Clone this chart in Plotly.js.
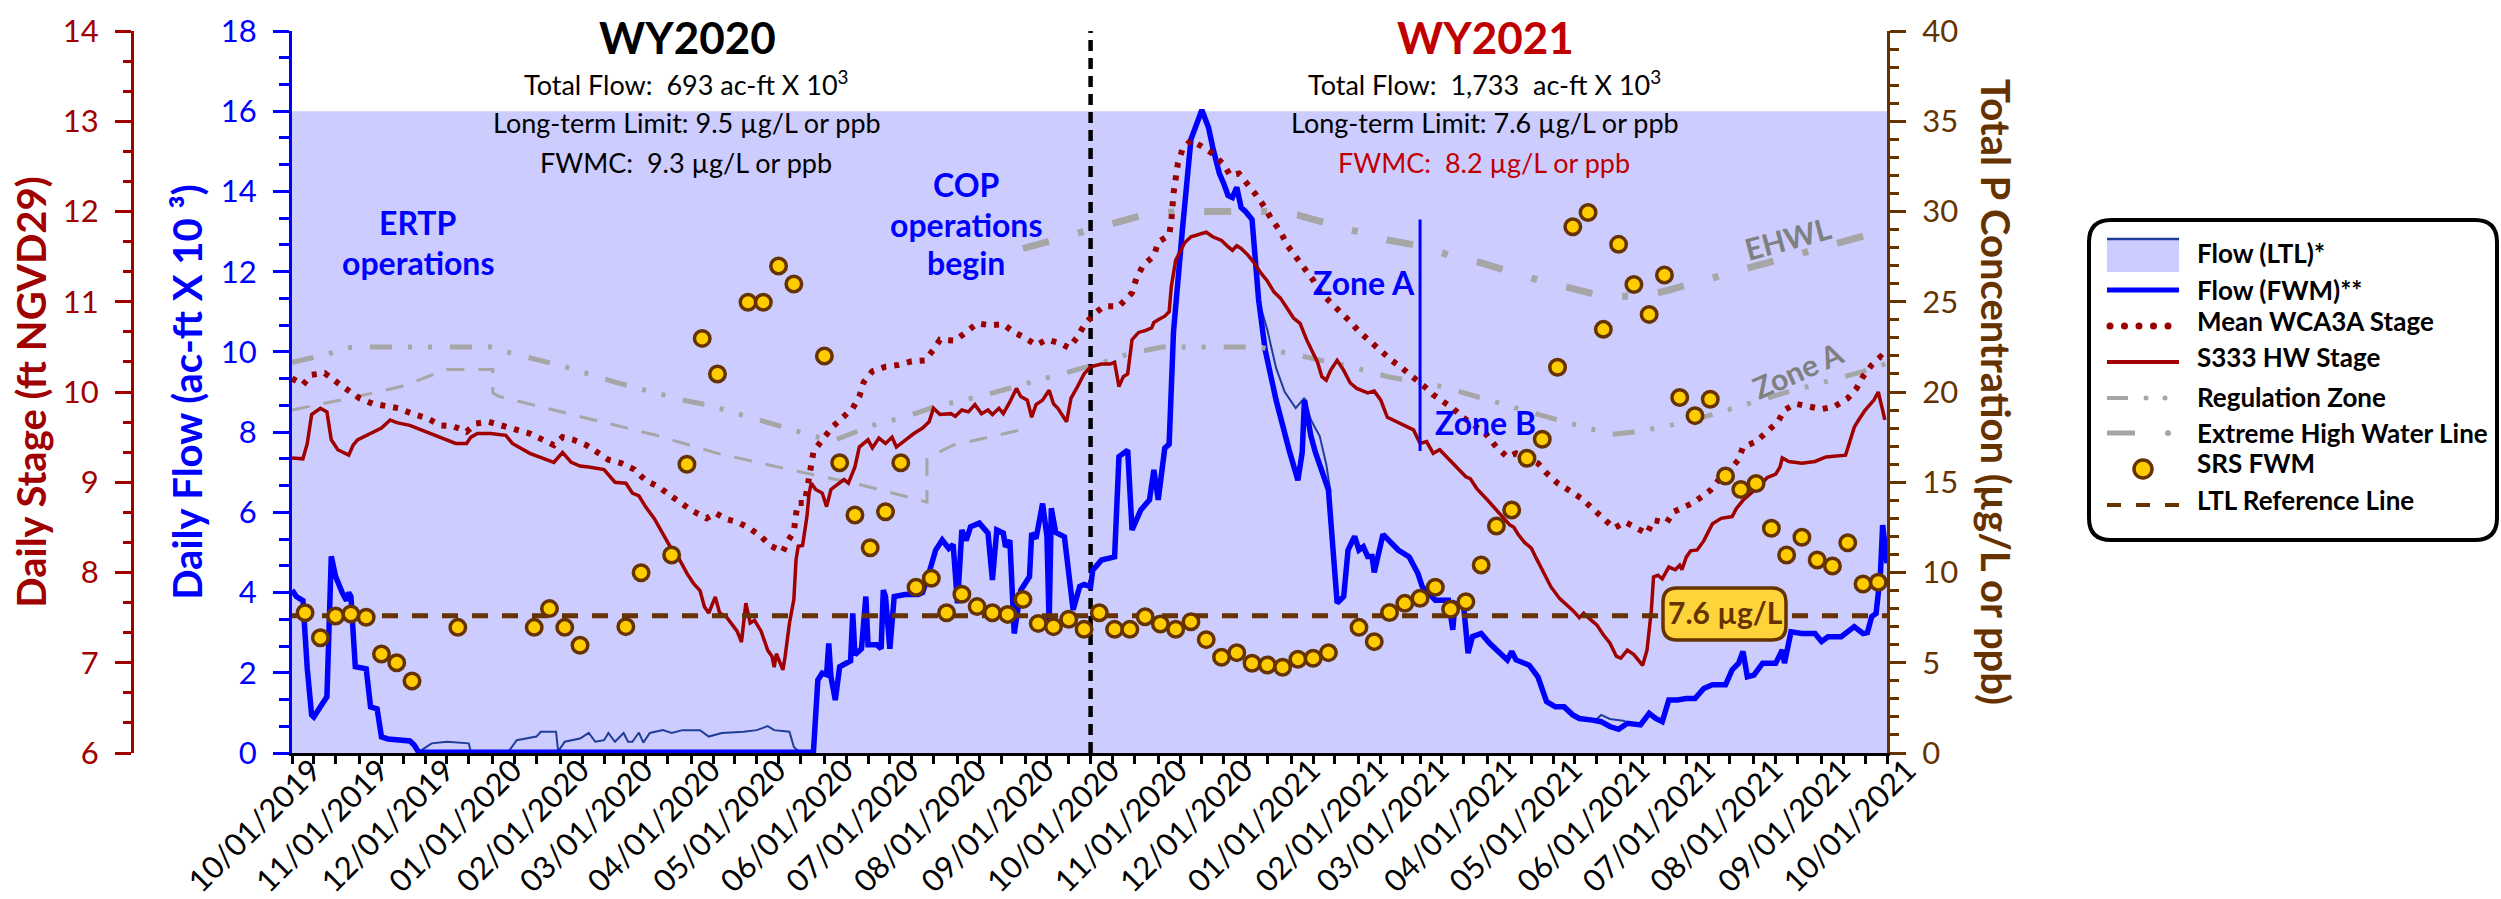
<!DOCTYPE html>
<html><head><meta charset="utf-8">
<script src="https://cdn.plot.ly/plotly-3.0.1.min.js"></script>
<style>html,body{margin:0;padding:0;background:#fff}</style>
</head><body><div id="chart" style="width:2501px;height:899px"></div>
<script>
// ---------------- DATA ----------------
const monthTicks = ['2019-10-01','2019-11-01','2019-12-01','2020-01-01','2020-02-01','2020-03-01','2020-04-01','2020-05-01','2020-06-01','2020-07-01','2020-08-01','2020-09-01','2020-10-01','2020-11-01','2020-12-01','2021-01-01','2021-02-01','2021-03-01','2021-04-01','2021-05-01','2021-06-01','2021-07-01','2021-08-01','2021-09-01','2021-10-01'];
const monthLabels = ['10/01/2019','11/01/2019','12/01/2019','01/01/2020','02/01/2020','03/01/2020','04/01/2020','05/01/2020','06/01/2020','07/01/2020','08/01/2020','09/01/2020','10/01/2020','11/01/2020','12/01/2020','01/01/2021','02/01/2021','03/01/2021','04/01/2021','05/01/2021','06/01/2021','07/01/2021','08/01/2021','09/01/2021','10/01/2021'];

// Daily flow, ac-ft x 10^3 (left blue axis)
const flowFwm = [['2019-10-01',4.06],['2019-10-03',3.9],['2019-10-06',3.8],['2019-10-08',2.1],['2019-10-10',0.95],['2019-10-11',0.9],['2019-10-14',1.15],['2019-10-17',1.4],['2019-10-19',4.9],['2019-10-21',4.4],['2019-10-24',4.0],['2019-10-26',3.8],['2019-10-27',4.0],['2019-10-28',3.9],['2019-10-30',2.15],['2019-11-04',2.1],['2019-11-06',1.15],['2019-11-09',1.1],['2019-11-11',0.4],['2019-11-14',0.35],['2019-11-24',0.3],['2019-11-26',0.2],['2019-11-28',0.02],['2020-01-09',0.01],['2020-04-18',0.02],['2020-05-26',0.02],['2020-05-27',0.05],['2020-05-29',1.82],['2020-05-31',1.99],['2020-06-02',1.95],['2020-06-03',2.73],['2020-06-04',1.9],['2020-06-06',1.32],['2020-06-08',2.15],['2020-06-11',2.24],['2020-06-13',2.3],['2020-06-14',3.48],['2020-06-15',2.45],['2020-06-18',2.6],['2020-06-20',3.9],['2020-06-21',2.7],['2020-06-25',2.7],['2020-06-27',2.6],['2020-06-28',4.06],['2020-06-29',3.9],['2020-07-01',2.6],['2020-07-03',3.9],['2020-07-08',3.95],['2020-07-14',3.95],['2020-07-16',4.0],['2020-07-19',4.5],['2020-07-22',5.06],['2020-07-25',5.31],['2020-07-28',5.1],['2020-07-30',5.2],['2020-08-01',3.73],['2020-08-03',5.56],['2020-08-05',5.3],['2020-08-07',5.64],['2020-08-11',5.73],['2020-08-15',5.48],['2020-08-17',4.31],['2020-08-19',5.56],['2020-08-22',5.48],['2020-08-23',5.14],['2020-08-25',5.3],['2020-08-27',2.98],['2020-08-30',4.06],['2020-09-03',4.4],['2020-09-04',5.48],['2020-09-06',5.35],['2020-09-09',6.22],['2020-09-11',5.4],['2020-09-12',3.23],['2020-09-13',6.1],['2020-09-15',5.5],['2020-09-19',5.39],['2020-09-21',4.4],['2020-09-23',3.57],['2020-09-26',4.15],['2020-09-28',4.2],['2020-10-01',4.15],['2020-10-02',4.56],['2020-10-06',4.81],['2020-10-12',4.89],['2020-10-14',7.39],['2020-10-18',7.55],['2020-10-20',5.56],['2020-10-24',6.06],['2020-10-28',6.31],['2020-10-30',7.06],['2020-11-01',6.31],['2020-11-04',7.6],['2020-11-06',7.7],['2020-11-08',10.5],['2020-11-12',13.0],['2020-11-16',15.3],['2020-11-21',16.03],['2020-11-24',15.6],['2020-11-26',15.1],['2020-11-29',14.45],['2020-12-01',14.2],['2020-12-03',13.9],['2020-12-05',13.85],['2020-12-07',14.1],['2020-12-09',13.6],['2020-12-11',13.5],['2020-12-14',13.3],['2020-12-17',11.3],['2020-12-20',10.05],['2020-12-25',8.8],['2020-12-31',7.55],['2021-01-04',6.8],['2021-01-06',7.5],['2021-01-07',8.8],['2021-01-10',7.9],['2021-01-12',7.5],['2021-01-18',6.56],['2021-01-20',5.06],['2021-01-22',3.74],['2021-01-25',3.9],['2021-01-27',5.06],['2021-01-30',5.4],['2021-02-01',5.06],['2021-02-03',5.14],['2021-02-05',4.9],['2021-02-07',4.9],['2021-02-08',4.5],['2021-02-12',5.45],['2021-02-15',5.3],['2021-02-19',5.06],['2021-02-24',4.89],['2021-02-28',4.48],['2021-03-02',4.15],['2021-03-08',3.81],['2021-03-14',3.81],['2021-03-16',3.07],['2021-03-17',3.73],['2021-03-21',3.65],['2021-03-23',2.49],['2021-03-25',2.9],['2021-03-29',2.98],['2021-04-02',2.73],['2021-04-10',2.32],['2021-04-12',2.53],['2021-04-14',2.32],['2021-04-20',2.19],['2021-04-24',1.9],['2021-04-28',1.28],['2021-05-02',1.15],['2021-05-06',1.15],['2021-05-10',0.95],['2021-05-13',0.86],['2021-05-19',0.82],['2021-05-23',0.78],['2021-05-27',0.66],['2021-05-31',0.59],['2021-06-04',0.74],['2021-06-10',0.70],['2021-06-14',0.99],['2021-06-17',0.86],['2021-06-20',0.78],['2021-06-23',1.32],['2021-06-27',1.32],['2021-07-01',1.36],['2021-07-05',1.36],['2021-07-09',1.61],['2021-07-13',1.7],['2021-07-19',1.7],['2021-07-22',2.07],['2021-07-25',2.24],['2021-07-27',2.53],['2021-07-29',1.9],['2021-08-01',1.94],['2021-08-05',2.24],['2021-08-11',2.24],['2021-08-14',2.57],['2021-08-15',2.24],['2021-08-18',3.02],['2021-08-23',2.98],['2021-08-29',2.98],['2021-09-01',2.78],['2021-09-04',2.9],['2021-09-10',2.9],['2021-09-16',3.15],['2021-09-20',2.98],['2021-09-22',3.0],['2021-09-24',3.4],['2021-09-26',3.48],['2021-09-28',4.48],['2021-09-29',5.68],['2021-10-01',4.73]];

const flowLtl = [['2019-11-28',0.02],['2019-12-04',0.24],['2019-12-11',0.28],['2019-12-21',0.24],['2019-12-22',0.02],['2020-01-08',0.02],['2020-01-12',0.32],['2020-01-21',0.41],['2020-01-23',0.53],['2020-01-30',0.53],['2020-01-31',0.04],['2020-02-03',0.28],['2020-02-10',0.36],['2020-02-14',0.5],['2020-02-17',0.28],['2020-02-21',0.32],['2020-02-23',0.5],['2020-02-26',0.28],['2020-03-01',0.5],['2020-03-03',0.28],['2020-03-05',0.28],['2020-03-08',0.51],['2020-03-10',0.26],['2020-03-13',0.5],['2020-03-19',0.57],['2020-03-23',0.5],['2020-03-28',0.57],['2020-04-05',0.57],['2020-04-09',0.41],['2020-04-15',0.5],['2020-04-25',0.53],['2020-05-01',0.57],['2020-05-06',0.67],['2020-05-09',0.57],['2020-05-16',0.53],['2020-05-18',0.15],['2020-05-20',0.05],['2020-05-27',0.04],['2020-05-28',null],['2020-12-17',11.3],['2020-12-21',10.55],['2020-12-25',9.6],['2020-12-29',9.0],['2021-01-03',8.6],['2021-01-07',8.85],['2021-01-10',8.3],['2021-01-14',7.9],['2021-01-17',7.2],['2021-01-19',6.5],['2021-01-20',null],['2021-05-20',0.8],['2021-05-23',0.95],['2021-05-27',0.85],['2021-06-03',0.8]];

// Stage, ft NGVD29 (far-left red axis)
const stageWca3a = [['2019-10-01',10.15],['2019-10-06',10.08],['2019-10-10',10.19],['2019-10-16',10.21],['2019-10-22',10.10],['2019-10-27',10.02],['2019-11-01',9.93],['2019-11-07',9.87],['2019-11-13',9.84],['2019-11-19',9.82],['2019-11-25',9.76],['2019-12-02',9.71],['2019-12-08',9.63],['2019-12-14',9.62],['2019-12-20',9.56],['2019-12-24',9.65],['2019-12-30',9.67],['2020-01-05',9.63],['2020-01-11',9.60],['2020-01-18',9.54],['2020-01-24',9.47],['2020-01-29',9.41],['2020-02-02',9.50],['2020-02-07',9.47],['2020-02-13',9.41],['2020-02-17',9.34],['2020-02-23',9.25],['2020-02-29',9.21],['2020-03-06',9.14],['2020-03-11',9.02],['2020-03-17',8.95],['2020-03-22',8.86],['2020-03-27',8.77],['2020-04-01',8.69],['2020-04-08',8.60],['2020-04-12',8.66],['2020-04-17',8.59],['2020-04-22',8.56],['2020-04-27',8.50],['2020-05-03',8.40],['2020-05-07',8.30],['2020-05-13',8.23],['2020-05-15',8.34],['2020-05-18',8.45],['2020-05-19',8.65],['2020-05-20',8.77],['2020-05-23',8.77],['2020-05-24',8.91],['2020-05-25',9.06],['2020-05-26',9.23],['2020-05-27',9.34],['2020-05-31',9.47],['2020-06-05',9.62],['2020-06-14',9.82],['2020-06-17',9.95],['2020-06-19',10.11],['2020-06-23',10.23],['2020-06-29',10.28],['2020-07-05',10.30],['2020-07-11',10.34],['2020-07-17',10.35],['2020-07-21',10.47],['2020-07-24',10.58],['2020-07-31',10.57],['2020-08-05',10.66],['2020-08-10',10.76],['2020-08-16',10.74],['2020-08-22',10.75],['2020-08-27',10.66],['2020-09-01',10.60],['2020-09-06',10.52],['2020-09-11',10.58],['2020-09-17',10.54],['2020-09-21',10.49],['2020-09-25',10.61],['2020-09-28',10.74],['2020-10-02',10.85],['2020-10-07',10.95],['2020-10-14',10.95],['2020-10-17',11.02],['2020-10-20',11.10],['2020-10-22',11.26],['2020-10-25',11.40],['2020-10-30',11.51],['2020-11-01',11.66],['2020-11-06',11.74],['2020-11-07',11.89],['2020-11-08',12.2],['2020-11-09',12.45],['2020-11-10',12.53],['2020-11-12',12.68],['2020-11-16',12.79],['2020-11-21',12.72],['2020-11-26',12.64],['2020-12-01',12.52],['2020-12-04',12.40],['2020-12-08',12.42],['2020-12-12',12.31],['2020-12-16',12.18],['2020-12-20',12.04],['2020-12-23',11.91],['2020-12-27',11.78],['2020-12-30',11.63],['2021-01-03',11.50],['2021-01-07',11.37],['2021-01-11',11.24],['2021-01-14',11.11],['2021-01-19',11.0],['2021-01-24',10.89],['2021-01-28',10.78],['2021-02-01',10.67],['2021-02-06',10.56],['2021-02-10',10.48],['2021-02-16',10.35],['2021-02-21',10.26],['2021-02-26',10.17],['2021-03-03',10.06],['2021-03-07',9.97],['2021-03-11',9.91],['2021-03-16',9.82],['2021-03-20',9.73],['2021-03-26',9.63],['2021-03-31',9.54],['2021-04-05',9.39],['2021-04-10',9.28],['2021-04-14',9.32],['2021-04-19',9.27],['2021-04-24',9.21],['2021-04-28',9.10],['2021-05-03',8.99],['2021-05-09',8.90],['2021-05-14',8.82],['2021-05-19',8.71],['2021-05-24',8.60],['2021-05-29',8.49],['2021-06-03',8.56],['2021-06-08',8.49],['2021-06-13',8.43],['2021-06-16',8.58],['2021-06-22',8.55],['2021-06-25',8.67],['2021-06-29',8.71],['2021-07-04',8.77],['2021-07-07',8.82],['2021-07-12',8.91],['2021-07-17',9.06],['2021-07-21',9.14],['2021-07-25',9.25],['2021-07-27',9.39],['2021-08-02',9.45],['2021-08-07',9.56],['2021-08-12',9.67],['2021-08-15',9.80],['2021-08-20',9.87],['2021-08-26',9.84],['2021-09-01',9.81],['2021-09-07',9.84],['2021-09-13',9.93],['2021-09-17',10.04],['2021-09-20',10.17],['2021-09-24',10.30],['2021-09-28',10.39],['2021-09-30',10.35]];

const stageS333 = [['2019-10-01',9.27],['2019-10-06',9.26],['2019-10-08',9.43],['2019-10-10',9.75],['2019-10-14',9.82],['2019-10-17',9.78],['2019-10-19',9.47],['2019-10-22',9.36],['2019-10-27',9.30],['2019-10-29',9.41],['2019-10-31',9.47],['2019-11-04',9.52],['2019-11-06',9.54],['2019-11-11',9.60],['2019-11-15',9.69],['2019-11-18',9.66],['2019-11-24',9.63],['2019-12-01',9.56],['2019-12-08',9.49],['2019-12-15',9.43],['2019-12-20',9.43],['2019-12-22',9.50],['2019-12-25',9.54],['2019-12-31',9.54],['2020-01-07',9.52],['2020-01-10',9.43],['2020-01-18',9.32],['2020-01-29',9.22],['2020-02-02',9.33],['2020-02-06',9.22],['2020-02-10',9.18],['2020-02-14',9.17],['2020-02-21',9.14],['2020-02-26',9.00],['2020-03-02',8.99],['2020-03-05',8.88],['2020-03-08',8.85],['2020-03-11',8.73],['2020-03-15',8.60],['2020-03-18',8.47],['2020-03-22',8.30],['2020-03-26',8.17],['2020-03-30',7.99],['2020-04-02',7.88],['2020-04-05',7.80],['2020-04-07',7.62],['2020-04-09',7.55],['2020-04-12',7.73],['2020-04-14',7.55],['2020-04-17',7.51],['2020-04-19',7.44],['2020-04-22',7.35],['2020-04-24',7.23],['2020-04-26',7.66],['2020-04-28',7.44],['2020-04-30',7.47],['2020-05-03',7.35],['2020-05-06',7.14],['2020-05-08',7.07],['2020-05-09',6.95],['2020-05-10',7.10],['2020-05-12',6.99],['2020-05-13',6.92],['2020-05-14',7.07],['2020-05-16',7.44],['2020-05-18',7.70],['2020-05-19',8.14],['2020-05-20',8.29],['2020-05-22',8.30],['2020-05-24',8.62],['2020-05-25',8.88],['2020-05-26',8.99],['2020-05-28',8.92],['2020-05-31',8.88],['2020-06-02',8.73],['2020-06-04',8.92],['2020-06-08',8.99],['2020-06-10',9.03],['2020-06-12',8.99],['2020-06-15',9.17],['2020-06-17',9.39],['2020-06-21',9.47],['2020-06-23',9.38],['2020-06-26',9.49],['2020-06-29',9.43],['2020-07-02',9.50],['2020-07-04',9.39],['2020-07-08',9.47],['2020-07-12',9.54],['2020-07-16',9.60],['2020-07-19',9.67],['2020-07-21',9.82],['2020-07-24',9.75],['2020-07-29',9.76],['2020-07-31',9.73],['2020-08-03',9.80],['2020-08-06',9.78],['2020-08-09',9.86],['2020-08-12',9.76],['2020-08-15',9.80],['2020-08-17',9.75],['2020-08-20',9.82],['2020-08-22',9.76],['2020-08-25',9.89],['2020-08-28',10.04],['2020-08-30',9.95],['2020-09-02',9.91],['2020-09-04',9.72],['2020-09-06',9.86],['2020-09-09',9.91],['2020-09-12',10.02],['2020-09-14',9.87],['2020-09-16',9.82],['2020-09-20',9.67],['2020-09-22',9.93],['2020-09-25',10.06],['2020-09-28',10.20],['2020-10-01',10.28],['2020-10-06',10.31],['2020-10-10',10.31],['2020-10-12',10.33],['2020-10-14',10.06],['2020-10-16',10.17],['2020-10-18',10.20],['2020-10-20',10.58],['2020-10-23',10.66],['2020-10-26',10.68],['2020-10-29',10.71],['2020-10-30',10.77],['2020-11-01',10.80],['2020-11-04',10.84],['2020-11-06',10.89],['2020-11-07',11.17],['2020-11-09',11.46],['2020-11-13',11.65],['2020-11-16',11.72],['2020-11-23',11.77],['2020-11-26',11.72],['2020-11-30',11.68],['2020-12-03',11.61],['2020-12-05',11.57],['2020-12-07',11.62],['2020-12-09',11.59],['2020-12-12',11.52],['2020-12-15',11.43],['2020-12-18',11.32],['2020-12-21',11.23],['2020-12-24',11.11],['2020-12-27',11.04],['2020-12-30',10.93],['2021-01-02',10.82],['2021-01-05',10.76],['2021-01-08',10.58],['2021-01-11',10.43],['2021-01-13',10.33],['2021-01-15',10.17],['2021-01-17',10.13],['2021-01-19',10.24],['2021-01-22',10.35],['2021-01-25',10.24],['2021-01-28',10.10],['2021-01-31',10.04],['2021-02-05',9.99],['2021-02-08',10.01],['2021-02-11',9.91],['2021-02-14',9.72],['2021-02-20',9.65],['2021-02-26',9.58],['2021-03-01',9.43],['2021-03-04',9.45],['2021-03-07',9.32],['2021-03-10',9.36],['2021-03-16',9.21],['2021-03-22',9.06],['2021-03-24',9.04],['2021-03-27',8.93],['2021-04-01',8.80],['2021-04-08',8.62],['2021-04-11',8.53],['2021-04-13',8.50],['2021-04-15',8.42],['2021-04-18',8.33],['2021-04-21',8.27],['2021-04-23',8.17],['2021-04-26',8.03],['2021-04-30',7.84],['2021-05-04',7.71],['2021-05-10',7.58],['2021-05-13',7.50],['2021-05-15',7.55],['2021-05-18',7.48],['2021-05-21',7.42],['2021-05-24',7.31],['2021-05-27',7.22],['2021-05-30',7.07],['2021-06-01',7.05],['2021-06-04',7.14],['2021-06-07',7.09],['2021-06-11',6.97],['2021-06-13',7.14],['2021-06-15',7.58],['2021-06-16',7.95],['2021-06-18',7.97],['2021-06-20',7.93],['2021-06-23',8.06],['2021-06-26',8.03],['2021-06-28',8.08],['2021-06-29',8.03],['2021-07-01',8.17],['2021-07-03',8.24],['2021-07-06',8.25],['2021-07-09',8.35],['2021-07-13',8.54],['2021-07-17',8.60],['2021-07-22',8.62],['2021-07-24',8.71],['2021-07-27',8.80],['2021-07-31',8.88],['2021-08-04',8.97],['2021-08-07',9.05],['2021-08-11',9.09],['2021-08-13',9.17],['2021-08-14',9.27],['2021-08-17',9.23],['2021-08-23',9.21],['2021-08-29',9.23],['2021-09-03',9.28],['2021-09-12',9.30],['2021-09-13',9.38],['2021-09-16',9.61],['2021-09-18',9.69],['2021-09-21',9.80],['2021-09-25',9.91],['2021-09-27',10.00],['2021-09-29',9.80],['2021-09-30',9.69]];

// Regulation schedule lines (stage axis)
const regZoneA = [['2019-10-01',10.33],['2019-10-16',10.41],['2019-10-26',10.49],['2019-10-30',10.5],['2019-12-31',10.5],['2020-01-08',10.44],['2020-02-03',10.28],['2020-02-26',10.11],['2020-03-14',10.0],['2020-03-30',9.9],['2020-04-08',9.86],['2020-05-03',9.68],['2020-05-29',9.5],['2020-06-05',9.46],['2020-06-23',9.63],['2020-07-09',9.73],['2020-07-22',9.84],['2020-08-11',9.95],['2020-08-30',10.08],['2020-09-14',10.17],['2020-09-24',10.24],['2020-10-07',10.33],['2020-10-18',10.42],['2020-10-27',10.47],['2020-11-03',10.5],['2020-12-17',10.5],['2021-01-02',10.42],['2021-01-21',10.32],['2021-02-02',10.25],['2021-02-14',10.17],['2021-03-11',10.06],['2021-04-04',9.89],['2021-05-06',9.67],['2021-05-28',9.53],['2021-06-09',9.56],['2021-06-17',9.6],['2021-07-02',9.67],['2021-07-21',9.81],['2021-08-15',9.99],['2021-09-19',10.22],['2021-10-01',10.32]];
const regZoneB = [['2019-10-01',9.80],['2019-10-31',9.95],['2019-11-20',10.06],['2019-12-11',10.25],['2019-12-31',10.25],['2020-01-01',10.25],['2020-01-01',9.99],['2020-01-04',9.95],['2020-02-08',9.74],['2020-03-16',9.52],['2020-04-13',9.32],['2020-05-16',9.14],['2020-06-18',8.97],['2020-07-18',8.78],['2020-07-18',9.27],['2020-07-30',9.41],['2020-08-30',9.58]];
const ehwl = [['2020-08-31',11.59],['2020-09-12',11.67],['2020-09-26',11.77],['2020-10-11',11.85],['2020-10-25',11.96],['2020-11-10',12.0],['2020-12-22',12.0],['2021-01-04',11.96],['2021-01-18',11.87],['2021-02-03',11.76],['2021-02-15',11.68],['2021-03-03',11.61],['2021-03-16',11.5],['2021-03-29',11.43],['2021-04-12',11.32],['2021-04-27',11.22],['2021-05-09',11.15],['2021-05-24',11.06],['2021-06-08',11.06],['2021-06-20',11.11],['2021-07-05',11.21],['2021-07-20',11.31],['2021-08-01',11.39],['2021-08-15',11.48],['2021-08-30',11.59],['2021-09-10',11.65],['2021-09-25',11.76],['2021-10-01',11.8]];

// SRS flow-weighted mean TP, ug/L (right brown axis)
const srsFwm = [['2019-10-07',7.77],['2019-10-14',6.39],['2019-10-21',7.59],['2019-10-28',7.70],['2019-11-04',7.52],['2019-11-11',5.48],['2019-11-18',5.0],['2019-11-25',3.99],['2019-12-16',6.96],['2020-01-20',6.96],['2020-01-27',8.0],['2020-02-03',6.96],['2020-02-10',5.97],['2020-03-02',7.0],['2020-03-09',9.99],['2020-03-23',10.97],['2020-03-30',16.0],['2020-04-06',22.97],['2020-04-13',21.0],['2020-04-27',24.97],['2020-05-04',24.97],['2020-05-11',26.98],['2020-05-18',25.98],['2020-06-01',21.99],['2020-06-08',16.08],['2020-06-15',13.19],['2020-06-22',11.37],['2020-06-29',13.37],['2020-07-06',16.08],['2020-07-13',9.18],['2020-07-20',9.68],['2020-07-27',7.77],['2020-08-03',8.79],['2020-08-10',8.11],['2020-08-17',7.77],['2020-08-24',7.68],['2020-08-31',8.51],['2020-09-07',7.18],['2020-09-14',7.0],['2020-09-21',7.41],['2020-09-28',6.85],['2020-10-05',7.77],['2020-10-12',6.85],['2020-10-19',6.85],['2020-10-26',7.55],['2020-11-02',7.15],['2020-11-09',6.85],['2020-11-16',7.27],['2020-11-23',6.28],['2020-11-30',5.3],['2020-12-07',5.56],['2020-12-14',4.97],['2020-12-21',4.88],['2020-12-28',4.75],['2021-01-04',5.19],['2021-01-11',5.25],['2021-01-18',5.56],['2021-02-01',6.96],['2021-02-08',6.17],['2021-02-15',7.78],['2021-02-22',8.29],['2021-03-01',8.57],['2021-03-08',9.18],['2021-03-15',7.96],['2021-03-22',8.38],['2021-03-29',10.42],['2021-04-05',12.58],['2021-04-12',13.46],['2021-04-19',16.33],['2021-04-26',17.38],['2021-05-03',21.37],['2021-05-10',29.16],['2021-05-17',29.94],['2021-05-24',23.47],['2021-05-31',28.18],['2021-06-07',25.96],['2021-06-14',24.3],['2021-06-21',26.48],['2021-06-28',19.7],['2021-07-05',18.69],['2021-07-12',19.6],['2021-07-19',15.35],['2021-07-26',14.6],['2021-08-02',14.93],['2021-08-09',12.45],['2021-08-16',10.97],['2021-08-23',11.95],['2021-08-30',10.69],['2021-09-06',10.36],['2021-09-13',11.65],['2021-09-20',9.36],['2021-09-27',9.46]];
const ltlLimit = 7.6;
const ltlRef = [['2019-10-01',ltlLimit],['2021-10-01',ltlLimit]];
const flowLtlCap = 16;   // lavender LTL band top (flow axis)
const zoneDivide = {date:'2021-03-01', from:7.53, to:13.3};

// ---------------- LAYOUT HELPERS ----------------
const W = 2501, H = 899, ML = 132, MR = 614, MT = 31, MB = 146;
const PW = W - ML - MR, PH = H - MT - MB;
const px = x => (x - ML) / PW;
const py = y => (H - MB - y) / PH;
const X = a => a.map(p => p[0]);
const Y = a => a.map(p => p[1]);
const FONT = 'Lato, "Open Sans", sans-serif';
const RED = '#A00000', BLUE = '#0000FF', BROWN = '#663300', GRAY = '#A6A6A6';

const minorX = monthTicks.slice(0, -1).flatMap(m => [m.slice(0, 8) + '11', m.slice(0, 8) + '21']);

const traces = [
  {name:'Flow (LTL)*', x:X(flowLtl), y:Y(flowLtl), yaxis:'y', mode:'lines', line:{color:'#1F3D99', width:2}, connectgaps:false},
  {name:'Flow (FWM)**', x:X(flowFwm), y:Y(flowFwm), yaxis:'y', mode:'lines', line:{color:BLUE, width:5.5}},
  {name:'Regulation Zone (ERTP)', x:X(regZoneB), y:Y(regZoneB), yaxis:'y2', mode:'lines', line:{color:GRAY, width:3, dash:'18px,14px'}},
  {name:'Regulation Zone', x:X(regZoneA), y:Y(regZoneA), yaxis:'y2', mode:'lines', line:{color:GRAY, width:5, dash:'22px,16px,4px,16px,4px,18px'}},
  {name:'Extreme High Water Line', x:X(ehwl), y:Y(ehwl), yaxis:'y2', mode:'lines', line:{color:GRAY, width:7, dash:'27px,30px,6px,30px'}},
  {name:'S333 HW Stage', x:X(stageS333), y:Y(stageS333), yaxis:'y2', mode:'lines', line:{color:RED, width:3.5}},
  {name:'Mean WCA3A Stage', x:X(stageWca3a), y:Y(stageWca3a), yaxis:'y2', mode:'lines', line:{color:'#990000', width:6, dash:'5px,8px'}},
  {name:'LTL Reference Line', x:X(ltlRef), y:Y(ltlRef), yaxis:'y3', mode:'lines', line:{color:BROWN, width:5, dash:'16px,14px'}},
  {name:'SRS FWM', x:X(srsFwm), y:Y(srsFwm), yaxis:'y3', mode:'markers', marker:{size:15.5, color:'#FFCC00', line:{color:BROWN, width:3.5}}}
];

function roundRect(x0, y0, x1, y1, r) {
  const P = (x, y) => px(x) + ',' + py(y);
  return 'M' + P(x0 + r, y0) + ' L' + P(x1 - r, y0) + ' Q' + P(x1, y0) + ' ' + P(x1, y0 + r) +
    ' L' + P(x1, y1 - r) + ' Q' + P(x1, y1) + ' ' + P(x1 - r, y1) + ' L' + P(x0 + r, y1) +
    ' Q' + P(x0, y1) + ' ' + P(x0, y1 - r) + ' L' + P(x0, y0 + r) + ' Q' + P(x0, y0) + ' ' + P(x0 + r, y0) + ' Z';
}
const pline = (x0, x1, y, color, width, dash) => ({type:'line', xref:'paper', yref:'paper', x0:px(x0), x1:px(x1), y0:py(y), y1:py(y), line:{color, width, dash:dash || 'solid'}, layer:'above'});
const pcircle = (cx, cy, r, fill, lc, lw) => ({type:'circle', xref:'paper', yref:'paper', x0:px(cx - r), x1:px(cx + r), y0:py(cy + r), y1:py(cy - r), fillcolor:fill, line:{color:lc || fill, width:lw || 0}, layer:'above'});

const shapes = [
  {type:'rect', xref:'x', yref:'y', x0:monthTicks[0], x1:monthTicks[monthTicks.length - 1], y0:0, y1:flowLtlCap, fillcolor:'#CCCCFF', line:{width:0}, layer:'below'},
  {type:'line', xref:'x', yref:'y', x0:'2020-10-01', x1:'2020-10-01', y0:0, y1:18, line:{color:'#000', width:4.5, dash:'11px,7px'}, layer:'below'},
  {type:'line', xref:'x', yref:'y', x0:zoneDivide.date, x1:zoneDivide.date, y0:zoneDivide.from, y1:zoneDivide.to, line:{color:BLUE, width:3}, layer:'above'},
  // 7.6 ug/L callout box
  {type:'path', xref:'paper', yref:'paper', path:roundRect(1663, 588, 1786, 640, 14), fillcolor:'#FFD43B', line:{color:BROWN, width:3.5}, layer:'above'},
  // legend frame
  {type:'path', xref:'paper', yref:'paper', path:roundRect(2089, 220, 2497, 540, 22), fillcolor:'#FFFFFF', line:{color:'#000', width:4}, layer:'above'},
  {type:'rect', xref:'paper', yref:'paper', x0:px(2107), x1:px(2179), y0:py(272), y1:py(239), fillcolor:'#CCCCFF', line:{width:0}, layer:'above'},
  pline(2107, 2179, 239, '#1F3D99', 2.5),
  pline(2107, 2179, 290, BLUE, 5),
  pcircle(2110, 326, 3.5, '#990000'), pcircle(2124.5, 326, 3.5, '#990000'), pcircle(2139, 326, 3.5, '#990000'), pcircle(2153.5, 326, 3.5, '#990000'), pcircle(2168, 326, 3.5, '#990000'),
  pline(2107, 2179, 362, RED, 4),
  pline(2107, 2128, 398, GRAY, 4), pcircle(2146, 398, 2.5, GRAY), pcircle(2165, 398, 2.5, GRAY),
  pline(2107, 2135, 433, GRAY, 5), pcircle(2168, 433, 3, GRAY),
  pcircle(2143, 469, 9, '#FFCC00', BROWN, 3.5),
  pline(2107, 2121, 505, BROWN, 4), pline(2136, 2150, 505, BROWN, 4), pline(2165, 2179, 505, BROWN, 4)
];

const ann = (x, y, text, size, color, bold, extra) => Object.assign({
  xref:'paper', yref:'paper', x:px(x), y:py(y), text, showarrow:false, xanchor:'center', yanchor:'middle',
  font:{family:FONT, size, color, weight:bold ? 700 : 400}
}, extra || {});
const NB = '\u00a0';
const legendItems = [['Flow (LTL)*', 253], ['Flow (FWM)**', 290], ['Mean WCA3A Stage', 321], ['S333 HW Stage', 357], ['Regulation Zone', 397], ['Extreme High Water Line', 433], ['SRS FWM', 463], ['LTL Reference Line', 500]];

const annotations = [
  ann(687, 37, 'WY2020', 44, '#000', true),
  ann(686, 83, 'Total Flow:' + NB + NB + '693 ac-ft X 10<sup>3</sup>', 27, '#000', false),
  ann(687, 122, 'Long-term Limit: 9.5 µg/L or ppb', 27, '#000', false),
  ann(686, 162, 'FWMC:' + NB + NB + '9.3 µg/L or ppb', 27, '#000', false),
  ann(1485, 37, 'WY2021', 44, '#C00000', true),
  ann(1484, 83, 'Total Flow:' + NB + NB + '1,733' + NB + NB + 'ac-ft X 10<sup>3</sup>', 27, '#000', false),
  ann(1485, 122, 'Long-term Limit: 7.6 µg/L or ppb', 27, '#000', false),
  ann(1484, 162, 'FWMC:' + NB + NB + '8.2 µg/L or ppb', 27, '#C00000', false),
  ann(418, 222, 'ERTP', 32, BLUE, true),
  ann(418, 262, 'operations', 32, BLUE, true),
  ann(966, 185, 'COP', 32, BLUE, true),
  ann(966, 224, 'operations', 32, BLUE, true),
  ann(966, 262, 'begin', 32, BLUE, true),
  ann(1364, 282, 'Zone' + NB + 'A', 32, BLUE, true),
  ann(1485, 422, 'Zone' + NB + 'B', 32, BLUE, true),
  ann(1788, 238, 'EHWL', 30, '#808080', true, {textangle:-15}),
  ann(1797, 370, 'Zone A', 30, '#808080', true, {textangle:-24}),
  ann(1725, 612, '7.6 µg/L', 30, BROWN, true),
  ann(1996, 392, 'Total P Concentration (µg/L or ppb)', 40, BROWN, true, {textangle:90})
].concat(legendItems.map(([t, y]) => ann(2195, y, t, 26, '#000', true, {xanchor:'left'})));

const tickFont = c => ({family:FONT, size:31, color:c});
const layout = {
  width:W, height:H, margin:{l:ML, r:MR, t:MT, b:MB, pad:0},
  paper_bgcolor:'#fff', plot_bgcolor:'rgba(0,0,0,0)', showlegend:false,
  font:{family:FONT},
  xaxis:{type:'date', domain:[px(292), 1], range:[monthTicks[0], monthTicks[monthTicks.length - 1]],
    tickmode:'array', tickvals:monthTicks, ticktext:monthLabels, tickangle:-45, tickfont:{family:FONT, size:31, color:'#000'},
    ticklabelstandoff:-24, ticklabelshift:20,
    showline:true, linecolor:'#000', linewidth:3, ticks:'outside', ticklen:8, tickwidth:3, tickcolor:'#000',
    minor:{tickmode:'array', tickvals:minorX, ticks:'outside', ticklen:8, tickwidth:3, tickcolor:'#000'},
    showgrid:false, zeroline:false, fixedrange:true},
  yaxis:{range:[0, 18], dtick:2, anchor:'x', side:'left', tickfont:tickFont(BLUE), ticklabelstandoff:10,
    showline:true, linecolor:BLUE, linewidth:3, ticks:'outside', ticklen:16, tickwidth:3, tickcolor:BLUE,
    minor:{dtick:2/3, ticks:'outside', ticklen:10, tickwidth:3, tickcolor:BLUE},
    showgrid:false, zeroline:false,
    title:{text:'Daily Flow (ac-ft X 10 ³)', font:{family:FONT, size:40, color:BLUE, weight:700}, standoff:6}},
  yaxis2:{range:[6, 14], dtick:1, overlaying:'y', anchor:'free', position:0, side:'left', tickfont:tickFont(RED), ticklabelstandoff:10,
    showline:true, linecolor:RED, linewidth:3, ticks:'outside', ticklen:16, tickwidth:3, tickcolor:RED,
    minor:{dtick:1/3, ticks:'outside', ticklen:8, tickwidth:3, tickcolor:RED},
    showgrid:false, zeroline:false,
    title:{text:'Daily Stage (ft NGVD29)', font:{family:FONT, size:40, color:RED, weight:700}, standoff:2}},
  yaxis3:{range:[0, 40], dtick:5, overlaying:'y', anchor:'x', side:'right', tickfont:tickFont(BROWN), ticklabelstandoff:10,
    showline:true, linecolor:BROWN, linewidth:3, ticks:'outside', ticklen:16, tickwidth:3, tickcolor:BROWN,
    minor:{dtick:1, ticks:'outside', ticklen:9, tickwidth:3, tickcolor:BROWN},
    showgrid:false, zeroline:false},
  shapes, annotations
};
Plotly.newPlot('chart', traces, layout, {staticPlot:true, displayModeBar:false});
</script></body></html>
